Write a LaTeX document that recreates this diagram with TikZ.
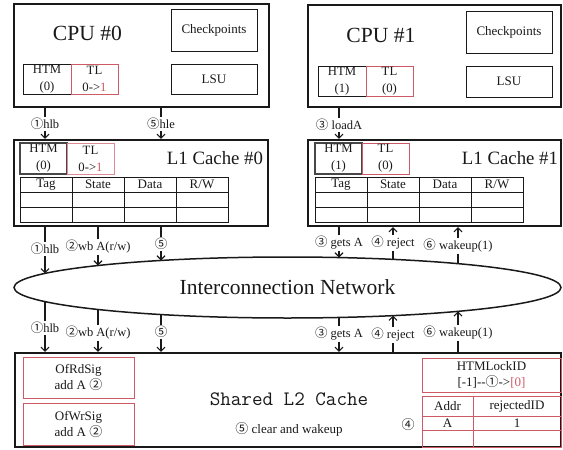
\documentclass[tikz,border=0pt]{standalone}
\usepackage{fontspec}
\setmainfont{Liberation Serif}
\newfontfamily\cjkf{Noto Sans CJK JP}
\usetikzlibrary{shapes.geometric,arrows.meta}
\definecolor{myred}{RGB}{205,90,100}
\definecolor{ink}{RGB}{25,25,25}
\newcommand{\cd}[1]{{\cjkf #1}}
\begin{document}
\begin{tikzpicture}[x=1pt,y=-1pt,
  outer/.style={draw=ink, line width=2.2pt, inner sep=0pt},
  box/.style={draw=ink, line width=0.9pt, inner sep=0pt, align=center, text=ink},
  redbox/.style={box, draw=myred},
  sz/.style 2 args={minimum width=#1, minimum height=#2},
  f13/.style={font=\fontsize{13}{16}\selectfont},
  fsm/.style={font=\fontsize{12.7}{17}\selectfont},
  fbig/.style={font=\fontsize{21.6}{24}\selectfont, text=ink},
  fmid/.style={font=\fontsize{18.8}{22}\selectfont, text=ink},
  lab/.style={inner sep=1pt, text=ink, font=\fontsize{12.5}{14}\selectfont},
  conn/.style={draw=ink, line width=1.1pt},
  arr/.style={conn, -{Straight Barb[length=4pt,width=8pt]}},
  cell/.style={box, sz={52}{15}, f13}
]
\useasboundingbox (0,0) rectangle (563,450);

% ---------- CPU #0 ----------
\node[outer, sz={255}{103}] (cpu0) at (141.5,55.5) {};
\node[fbig] (cpu0t) at (87.5,33) {CPU \#0};
\node[box, sz={86}{42}, f13] (ck0) at (214,30) {Checkpoints};
\node[box, sz={86}{30}, f13] (lsu0) at (214,79) {LSU};
\node[box, sz={48}{30}, fsm] (hc0) at (47,79) {HTM\\(0)};
\node[redbox, sz={47}{30}, fsm] (tc0) at (94.5,79) {TL\\0->\textcolor{myred}{1}};

% ---------- CPU #1 ----------
\node[outer, sz={253}{102}] (cpu1) at (434.5,56) {};
\node[fbig] (cpu1t) at (381,35) {CPU \#1};
\node[box, sz={86}{42}, f13] (ck1) at (509,32) {Checkpoints};
\node[box, sz={86}{31}, f13] (lsu1) at (509,81.5) {LSU};
\node[box, sz={48}{30}, fsm] (hc1) at (342,81) {HTM\\(1)};
\node[redbox, sz={47}{30}, fsm] (tc1) at (389.5,81) {TL\\(0)};

% ---------- L1 Cache #0 ----------
\node[outer, sz={254}{86}] (l10) at (141,183) {};
\node[fmid] (l10t) at (215,158) {L1 Cache \#0};
\node[box, sz={47}{31}, fsm, line width=1.3pt, draw=ink!80] (hl0) at (43.5,158.5) {HTM\\(0)};
\node[redbox, sz={47}{31}, fsm, draw=myred!70] (tl0) at (90.5,158.5) {TL\\0->\textcolor{myred}{1}};
\node[cell] (a0c1) at (46,184.5) {Tag};
\node[cell] (a0c2) at (98,184.5) {State};
\node[cell] (a0c3) at (150,184.5) {Data};
\node[cell] (a0c4) at (202,184.5) {R/W};
\foreach \c/\x in {1/46,2/98,3/150,4/202}{
  \node[cell] (b0c\c) at (\x,199.5) {};
  \node[cell] (d0c\c) at (\x,214.5) {};
}

% ---------- L1 Cache #1 ----------
\node[outer, sz={253}{86}] (l11) at (434.5,183) {};
\node[fmid] (l11t) at (510,158) {L1 Cache \#1};
\node[box, sz={47}{31}, fsm, line width=1.3pt, draw=ink!80] (hl1) at (338.5,158.5) {HTM\\(1)};
\node[redbox, sz={47}{31}, fsm] (tl1) at (385.5,158.5) {TL\\(0)};
\node[cell] (a1c1) at (341,184.5) {Tag};
\node[cell] (a1c2) at (393,184.5) {State};
\node[cell] (a1c3) at (445,184.5) {Data};
\node[cell] (a1c4) at (497,184.5) {R/W};
\foreach \c/\x in {1/341,2/393,3/445,4/497}{
  \node[cell] (b1c\c) at (\x,199.5) {};
  \node[cell] (d1c\c) at (\x,214.5) {};
}

% ---------- Interconnection network ----------
\node[ellipse, draw=ink, line width=1.5pt, inner sep=0pt, sz={547}{61},
      font=\fontsize{21.5}{24}\selectfont, text=ink] (net) at (287.5,287.5) {Interconnection Network};
\coordinate (nT1) at (45,273.4);  \coordinate (nB1) at (45,301.6);
\coordinate (nT2) at (98,265.5);  \coordinate (nB2) at (98,309.5);
\coordinate (nT5) at (161,260.5); \coordinate (nB5) at (161,314.5);
\coordinate (nT3) at (339,257.5); \coordinate (nB3) at (339,317.5);
\coordinate (nT4) at (393,259.4); \coordinate (nB4) at (393,315.6);
\coordinate (nT6) at (458,263.7); \coordinate (nB6) at (458,311.4);

% ---------- Shared L2 ----------
\node[outer, sz={546}{94}] (l2) at (288,400) {};
\node[redbox, sz={111}{41}, f13] (rd) at (78.5,377.5) {OfRdSig\\add A \cd{②}};
\node[redbox, sz={111}{42}, f13] (wr) at (78.5,424) {OfWrSig\\add A \cd{②}};
\node[text=ink, font=\fontsize{20.5}{24}\ttfamily] (l2t) at (289,399) {Shared L2 Cache};
\node[lab, font=\fontsize{13}{15}\selectfont] (clr) at (289,429) {\cd{⑤} clear and wakeup};
\node[redbox, sz={139}{34}, f13] (lock) at (491.5,375) {HTMLockID\\{}[-1]-{}-\cd{①}->\textcolor{myred}{[0]}};
\node[redbox, sz={51}{20}, f13] (addr) at (447.5,406) {Addr};
\node[redbox, sz={88}{20}, f13] (rej) at (517,406) {rejectedID};
\node[redbox, sz={51}{14}, f13] (addrA) at (447.5,423) {A};
\node[redbox, sz={88}{14}, f13] (rej1) at (517,423) {1};
\node[redbox, sz={51}{17}, f13] (addrE) at (447.5,438.5) {};
\node[redbox, sz={88}{17}, f13] (rejE) at (517,438.5) {};
\node[lab, font=\fontsize{13}{15}\selectfont] (four) at (408,425) {\cd{④}};

% ---------- CPU -> L1 ----------
\node[lab] (c1) at (45,124) {\cd{①}hlb};
\draw[conn] (c1.north) -- (c1.north |- cpu0.south);
\draw[arr] (c1.south) -- (c1.south |- l10.north);
\node[lab] (c5) at (161,124) {\cd{⑤}hle};
\draw[conn] (c5.north) -- (c5.north |- cpu0.south);
\draw[arr] (c5.south) -- (c5.south |- l10.north);
\node[lab] (c3) at (339,125) {\cd{③} loadA};
\draw[conn] (c3.north) -- (c3.north |- cpu1.south);
\draw[arr] (c3.south) -- (c3.south |- l11.north);

% ---------- L1 <-> network ----------
\node[lab] (u1) at (45,249) {\cd{①}hlb};
\draw[conn] (u1.north) -- (u1.north |- l10.south);
\draw[arr] (u1.south) -- (nT1);
\node[lab] (u2) at (98,247) {\cd{②}wb A(r/w)};
\draw[conn] (u2.north) -- (u2.north |- l10.south);
\draw[arr] (u2.south) -- (nT2);
\node[lab] (u5) at (161,244) {\cd{⑤}};
\draw[conn] (u5.north) -- (u5.north |- l10.south);
\draw[arr] (u5.south) -- (nT5);
\node[lab] (u3) at (339,243) {\cd{③} gets A};
\draw[conn] (u3.north) -- (u3.north |- l11.south);
\draw[arr] (u3.south) -- (nT3);
\node[lab] (u4) at (393,243) {\cd{④} reject};
\draw[conn] (nT4) -- (u4.south);
\draw[arr] (u4.north) -- (u4.north |- l11.south);
\node[lab] (u6) at (458,246) {\cd{⑥} wakeup(1)};
\draw[conn] (nT6) -- (u6.south);
\draw[arr] (u6.north) -- (u6.north |- l11.south);

% ---------- network <-> L2 ----------
\node[lab] (w1) at (45,328) {\cd{①}hlb};
\draw[conn] (nB1) -- (w1.north);
\draw[arr] (w1.south) -- (w1.south |- l2.north);
\node[lab] (w2) at (98,333) {\cd{②}wb A(r/w)};
\draw[conn] (nB2) -- (w2.north);
\draw[arr] (w2.south) -- (w2.south |- l2.north);
\node[lab] (w5) at (161,332) {\cd{⑤}};
\draw[conn] (nB5) -- (w5.north);
\draw[arr] (w5.south) -- (w5.south |- l2.north);
\node[lab] (w3) at (339,334) {\cd{③} gets A};
\draw[conn] (nB3) -- (w3.north);
\draw[arr] (w3.south) -- (w3.south |- l2.north);
\node[lab] (w4) at (393,335) {\cd{④} reject};
\draw[conn] (w4.south |- l2.north) -- (w4.south);
\draw[arr] (w4.north) -- (nB4);
\node[lab] (w6) at (458,333) {\cd{⑥} wakeup(1)};
\draw[conn] (w6.south |- l2.north) -- (w6.south);
\draw[arr] (w6.north) -- (nB6);
\end{tikzpicture}
\end{document}
